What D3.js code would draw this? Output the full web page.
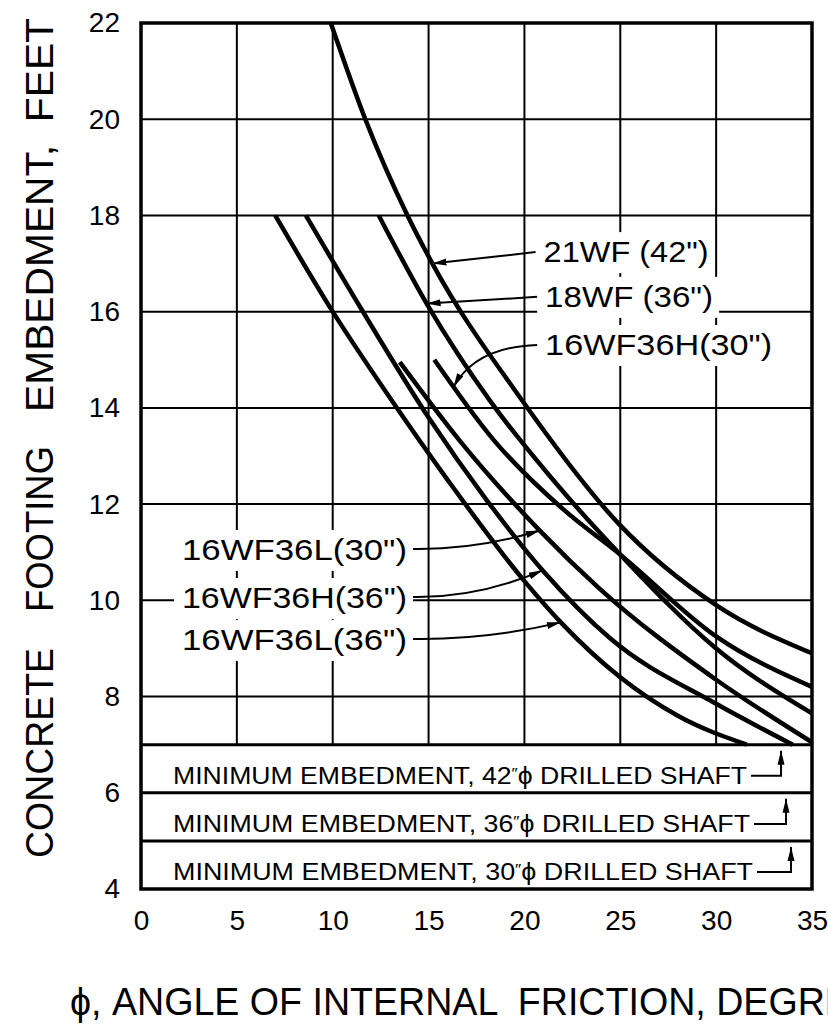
<!DOCTYPE html>
<html>
<head>
<meta charset="utf-8">
<script src="https://cdn.jsdelivr.net/npm/d3@7"></script>
<style>
  body { margin: 0; background: #fff; }
  svg { display: block; overflow: hidden; }
  text { font-family: "Liberation Sans", "DejaVu Sans", sans-serif; fill: #000; }
</style>
</head>
<body>
<svg width="828" height="1030"></svg>
<script>
// axis ticks
var xTicks = [0, 5, 10, 15, 20, 25, 30, 35];
var yTicks = [4, 6, 8, 10, 12, 14, 16, 18, 20, 22];
var gridY = [8, 10, 12, 14, 16, 18, 20];
var bandY = [7, 6, 5];

// curves: phi (degrees) vs embedment (feet)
var names = ['21WF (42")', '18WF (36")', '16WF36H(30")', '16WF36L(30")', '16WF36H(36")', '16WF36L(36")'];
var phi21_42  = [9.9, 11.7, 13.9, 15.2, 19.8, 24.9, 30, 35];
var emb21_42  = [22, 20, 18, 17.0, 14.2, 11.6, 9.9, 8.9];
var phi18_36  = [12.4, 15.0, 18.2, 21.5, 25, 30, 35];
var emb18_36  = [18, 16.1, 14.15, 12.5, 10.95, 9.0, 7.65];
var phi16H_30 = [15.3, 18.4, 22, 25, 30, 35];
var emb16H_30 = [15, 13.33, 11.9, 10.95, 9.25, 8.2];
var phi16L_30 = [13.5, 16.6, 20.8, 23.9, 30, 35];
var emb16L_30 = [14.95, 13.33, 11.45, 10.25, 8.35, 7.05];
var phi16H_36 = [8.6, 11.5, 15, 18, 21, 24.5, 30, 34];
var emb16H_36 = [18, 16.05, 13.8, 12.1, 10.6, 9.2, 7.85, 7.0];
var phi16L_36 = [7.0, 10, 13, 16, 20, 22, 25, 28, 31.6];
var emb16L_36 = [18, 16, 14.2, 12.5, 10.4, 9.5, 8.4, 7.6, 7.0];

// phi where each label's arrow meets its curve
var arrowPhi = [15.2, 14.9, 16.3, 20.8, 20.95, 21.9];

// minimum embedment bands (shaft diameters)
var shaftDia = ['42', '36', '30'];

var series = [
  [phi21_42, emb21_42], [phi18_36, emb18_36], [phi16H_30, emb16H_30],
  [phi16L_30, emb16L_30], [phi16H_36, emb16H_36], [phi16L_36, emb16L_36]
].map(function(s) { return s[0].map(function(p, i) { return [p, s[1][i]]; }); });

var svg = d3.select("svg");

var x = d3.scaleLinear().domain([0, 35]).range([141, 812]);
var y = d3.scaleLinear().domain([4, 22]).range([889, 23]);

var defs = svg.append("defs");
defs.append("marker")
    .attr("id", "arrow")
    .attr("viewBox", "0 0 14 8")
    .attr("refX", 14).attr("refY", 4)
    .attr("markerWidth", 14).attr("markerHeight", 8)
    .attr("markerUnits", "userSpaceOnUse")
    .attr("orient", "auto")
  .append("path")
    .attr("d", "M0,0.5L14,4L0,7.5Z")
    .attr("fill", "#000");

var g = svg.append("g");

// grid
g.selectAll(".vgrid")
  .data(xTicks.slice(1, -1))
  .enter().append("line")
    .attr("x1", function(d) { return x(d); }).attr("x2", function(d) { return x(d); })
    .attr("y1", y(22)).attr("y2", y(7))
    .attr("stroke", "#000").attr("stroke-width", 2);

g.selectAll(".hgrid")
  .data(gridY)
  .enter().append("line")
    .attr("x1", x(0)).attr("x2", x(35))
    .attr("y1", function(d) { return y(d); }).attr("y2", function(d) { return y(d); })
    .attr("stroke", "#000").attr("stroke-width", 2);

g.selectAll(".band")
  .data(bandY)
  .enter().append("line")
    .attr("x1", x(0)).attr("x2", x(35))
    .attr("y1", function(d) { return y(d); }).attr("y2", function(d) { return y(d); })
    .attr("stroke", "#000").attr("stroke-width", 3);

g.append("rect")
    .attr("x", x(0)).attr("y", y(22))
    .attr("width", x(35) - x(0)).attr("height", y(4) - y(22))
    .attr("fill", "none").attr("stroke", "#000").attr("stroke-width", 3.5);

// label layout, in data units
var labelPos = [
  {lx: 21.0, ly: 17.03, side: "right", w: 165, bend: 0},
  {lx: 21.08, ly: 16.1, side: "right", w: 168, bend: 0},
  {lx: 21.08, ly: 15.1, side: "right", w: 227, bend: 1},
  {lx: 2.14, ly: 10.84, side: "left", w: 225, bend: 1},
  {lx: 2.14, ly: 9.84, side: "left", w: 225, bend: 1},
  {lx: 2.14, ly: 8.97, side: "left", w: 225, bend: 1}
];

var labels = g.append("g");
var curves = g.append("g");
var leaders = g.append("g");

var line = d3.line()
    .x(function(d) { return x(d[0]); })
    .y(function(d) { return y(d[1]); })
    .curve(d3.curveMonotoneX);

var paths = curves.selectAll("path")
  .data(series)
  .enter().append("path")
    .attr("d", line)
    .attr("fill", "none")
    .attr("stroke", "#000")
    .attr("stroke-width", 4.5);

function pointAtX(node, px) {
  var lo = 0, hi = node.getTotalLength();
  for (var i = 0; i < 40; i++) {
    var mid = (lo + hi) / 2;
    if (node.getPointAtLength(mid).x < px) lo = mid; else hi = mid;
  }
  return node.getPointAtLength(lo);
}

names.forEach(function(name, i) {
  var p = labelPos[i];
  var tx = x(p.lx), ty = y(p.ly);
  var bg = labels.append("rect").attr("fill", "#fff");
  var t = labels.append("text")
      .attr("x", tx).attr("y", ty)
      .attr("font-size", 30)
      .attr("textLength", p.w)
      .attr("lengthAdjust", "spacingAndGlyphs")
      .style("white-space", "pre")
      .text(name);
  var bb = t.node().getBBox();
  bg.attr("x", bb.x - 8).attr("y", bb.y - 3)
    .attr("width", bb.width + 14).attr("height", bb.height + 8);

  var tip = pointAtX(paths.nodes()[i], x(arrowPhi[i]));
  var sx, sy, d;
  if (p.side === "right") {
    sx = tx - 8; sy = ty - 10;
    if (p.bend) d = "M" + sx + "," + sy + "Q" + (tip.x + 22) + "," + (sy + 2) + " " + tip.x + "," + tip.y;
    else d = "M" + sx + "," + sy + "L" + tip.x + "," + tip.y;
  } else {
    sx = tx + p.w + 6; sy = ty - 11;
    d = "M" + sx + "," + sy + "Q" + ((sx + tip.x) / 2) + "," + (sy + 1) + " " + tip.x + "," + tip.y;
  }
  leaders.append("path")
      .attr("d", d)
      .attr("fill", "none")
      .attr("stroke", "#000")
      .attr("stroke-width", 2)
      .attr("marker-end", "url(#arrow)");
});

// minimum embedment bands
shaftDia.forEach(function(dia, i) {
  var top = bandY[i], base = y(top - 1) - 9;
  var t = g.append("text")
      .attr("x", x(1.67)).attr("y", base)
      .attr("font-size", 23)
      .attr("textLength", 574 + i * 3)
      .attr("lengthAdjust", "spacingAndGlyphs");
  t.append("tspan").text("MINIMUM EMBEDMENT, " + dia);
  t.append("tspan").attr("dy", -6).attr("font-size", 15).text("\u2033");
  t.append("tspan").attr("dy", 6).text("\u03D5 DRILLED SHAFT");
  var end = t.node().getBBox();
  var ex = end.x + end.width + 4, ax = ex + 30 + i * 2;
  g.append("path")
      .attr("d", "M" + ex + "," + (base - 8) + "H" + ax + "V" + (y(top) + 6))
      .attr("fill", "none")
      .attr("stroke", "#000")
      .attr("stroke-width", 2)
      .attr("marker-end", "url(#arrow)");
});

// axes
var ax = svg.append("g")
    .attr("transform", "translate(0," + y(4) + ")")
    .call(d3.axisBottom(x).tickValues(xTicks).tickSize(0).tickPadding(21));
ax.select(".domain").remove();
ax.selectAll("text")
    .attr("font-size", 28)
    .attr("font-family", "Liberation Sans, DejaVu Sans, sans-serif")
    .attr("fill", "#000");

var ay = svg.append("g")
    .attr("transform", "translate(" + x(0) + ",0)")
    .call(d3.axisLeft(y).tickValues(yTicks).tickSize(0).tickPadding(21));
ay.select(".domain").remove();
ay.selectAll("text")
    .attr("font-size", 28)
    .attr("font-family", "Liberation Sans, DejaVu Sans, sans-serif")
    .attr("fill", "#000");

// axis titles (the reference runs the x title off the right edge)
svg.append("text")
    .attr("x", 70).attr("y", 1015)
    .attr("font-size", 38)
    .attr("textLength", 830)
    .attr("lengthAdjust", "spacingAndGlyphs")
    .style("white-space", "pre")
    .text("\u03D5, ANGLE OF INTERNAL  FRICTION, DEGREES");

[["CONCRETE", 858, 210], ["FOOTING", 612, 166], ["EMBEDMENT,  FEET", 412, 394]].forEach(function(w) {
  svg.append("text")
      .attr("transform", "translate(53," + w[1] + ") rotate(-90)")
      .attr("font-size", 38)
      .attr("textLength", w[2])
      .attr("lengthAdjust", "spacingAndGlyphs")
      .style("white-space", "pre")
      .text(w[0]);
});
</script>
</body>
</html>
